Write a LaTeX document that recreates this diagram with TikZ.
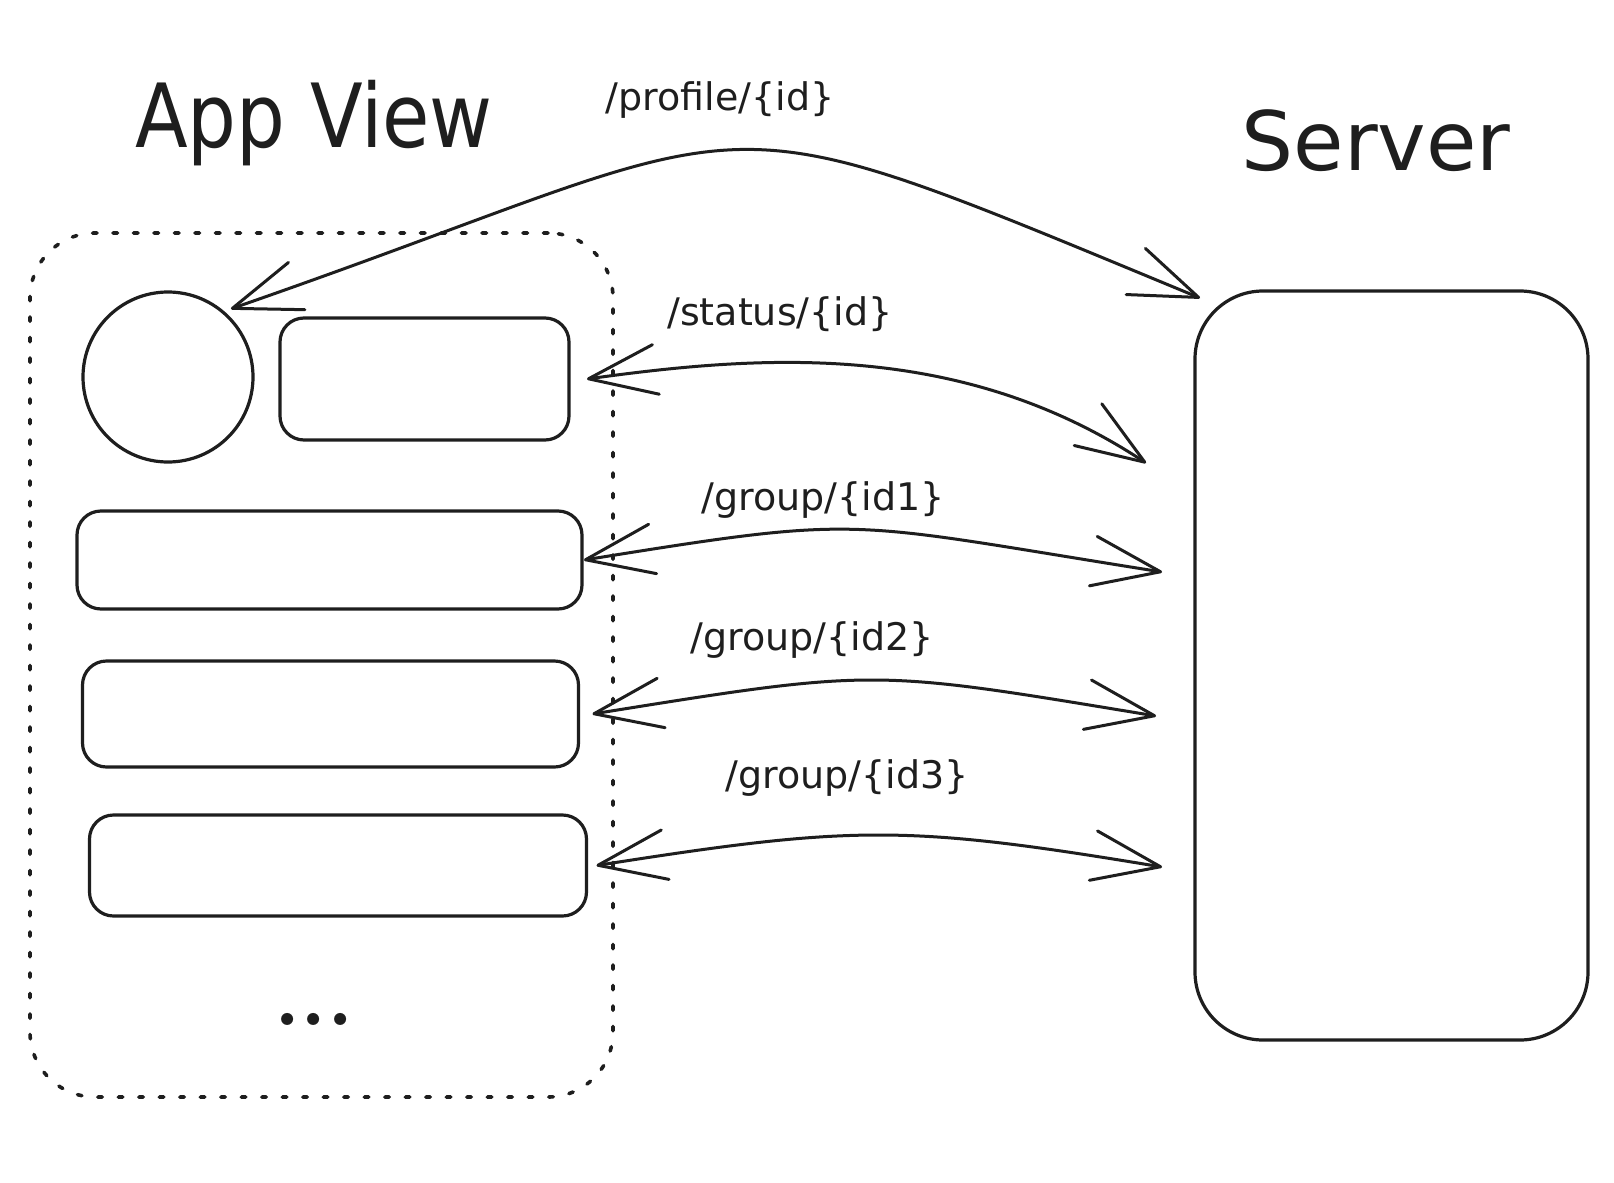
\documentclass[tikz,border=0pt]{standalone}
\usepackage{fontspec}
\newfontfamily\hand{DejaVu Sans}
\usetikzlibrary{arrows.meta}
\definecolor{ink}{HTML}{1E1E1E}
\tikzset{
  barbtip/.tip={Straight Barb[length=68pt,width=50pt,round]},
  sketch/.style={draw=ink, line width=3.2pt, line join=round},
  box/.style={sketch, rectangle, rounded corners=24pt, inner sep=0pt, outer sep=0pt},
  link/.style={draw=ink, line width=3pt, line cap=round, arrows={barbtip-barbtip}},
  route/.style={font=\hand\fontsize{38}{40}\selectfont, text=ink, anchor=base, inner sep=0pt},
  heading/.style={text=ink, anchor=base, inner sep=0pt},
  frame/.style={draw=ink, line width=3.6pt, dash pattern=on 4.5pt off 16pt, line cap=round,
    rounded corners=65pt, rectangle, inner sep=0pt, outer sep=0pt}
}
\begin{document}
\begin{tikzpicture}[x=1pt,y=-1pt]
  \fill[white] (0,0) rectangle (1614,1183);
  \useasboundingbox (0,0) rectangle (1614,1183);

  % titles
  \node[heading, font=\hand\fontsize{77}{80}\selectfont] (appview) at (314,147) {\scalebox{1}[1.15]{App View}};
  \node[heading, font=\hand\fontsize{82}{86}\selectfont] (server) at (1376,170) {Server};

  % client screen
  \node[frame, minimum width=583pt, minimum height=864pt] (screen) at (321.5,665) {};
  \node[sketch, circle, minimum size=170pt, inner sep=0pt, outer sep=0pt] (avatar) at (168,377) {};
  \node[box, minimum width=289pt, minimum height=122pt] (status) at (424.5,379) {};
  \node[box, minimum width=505pt, minimum height=98pt] (groupA) at (329.5,560) {};
  \node[box, minimum width=496pt, minimum height=106pt] (groupB) at (330.5,714) {};
  \node[box, minimum width=497pt, minimum height=101pt] (groupC) at (338,865.5) {};
  \node[heading, font=\bfseries\fontsize{84}{86}\selectfont] (more) at (314,1025) {...};

  % backend
  \node[box, rounded corners=68pt, minimum width=393pt, minimum height=749pt] (srv) at (1391.5,665.5) {};

  % request ends on the server side
  \coordinate (srvStatus) at (1146,463);
  \coordinate (srvA) at (1162,572);
  \coordinate (srvB) at (1156,716);
  \coordinate (srvC) at (1162,867);

  % requests
  \draw[link] ([xshift=5pt,yshift=-7pt]srv.north west) .. controls (680,83) and (790,115) .. ([shift={(5pt,6pt)}]avatar.47);
  \draw[link] ([xshift=18pt]status.east) .. controls (760,355) and (960,340) .. (srvStatus);
  \draw[link] ([xshift=2pt]groupA.east) .. controls (870,514) and (840,521) .. (srvA);
  \draw[link] ([xshift=14pt]groupB.east) .. controls (879,668) and (871,669) .. (srvB);
  \draw[link] ([xshift=10pt]groupC.east) .. controls (854,825) and (906,824.5) .. (srvC);

  % request labels
  \node[route] (lprofile) at (720,110) {/profile/\{id\}};
  \node[route] (lstatus) at (780,325) {/status/\{id\}};
  \node[route] (lgroupA) at (823,510) {/group/\{id1\}};
  \node[route] (lgroupB) at (812,650) {/group/\{id2\}};
  \node[route] (lgroupC) at (847,788) {/group/\{id3\}};
\end{tikzpicture}
\end{document}
